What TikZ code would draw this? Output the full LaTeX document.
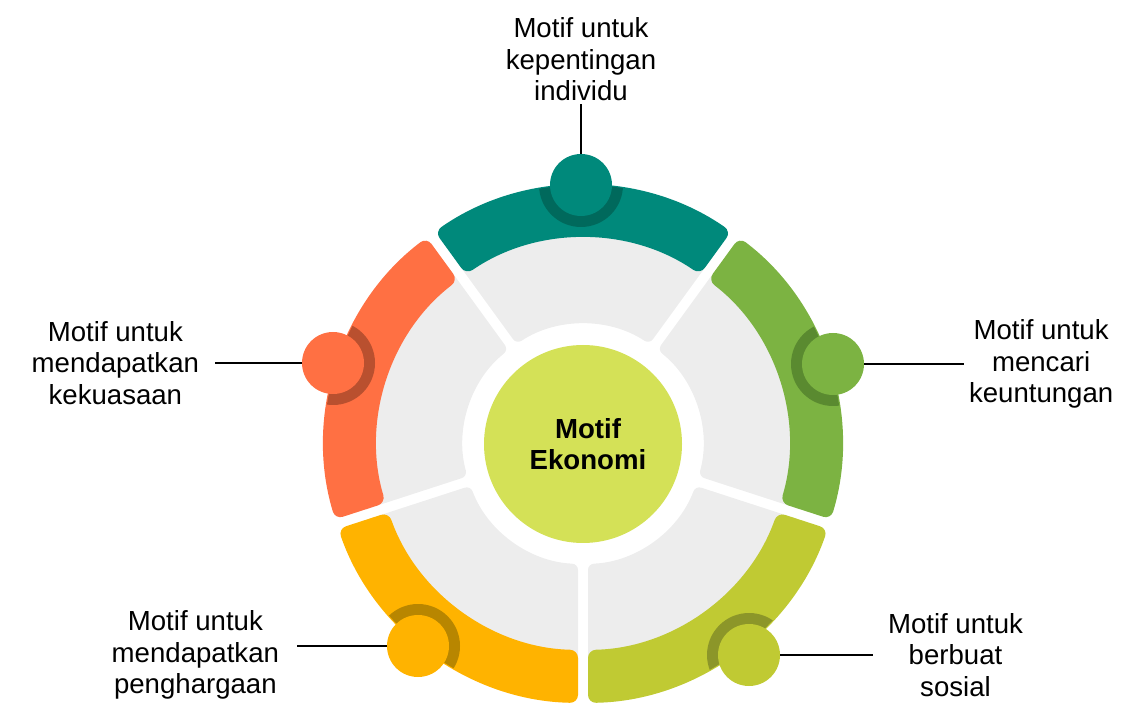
\documentclass[tikz,border=0pt]{standalone}
\usepackage{fontspec}
\setmainfont{Liberation Sans}
\usetikzlibrary{calc,positioning}

\definecolor{mtTeal}{HTML}{00897B}
\definecolor{mtTealDk}{HTML}{00695C}
\definecolor{mtOrange}{HTML}{FF7043}
\definecolor{mtOrangeDk}{HTML}{B9502F}
\definecolor{mtAmber}{HTML}{FFB300}
\definecolor{mtAmberDk}{HTML}{B88600}
\definecolor{mtLime}{HTML}{C0CA33}
\definecolor{mtLimeDk}{HTML}{8C9629}
\definecolor{mtGreen}{HTML}{7CB342}
\definecolor{mtGreenDk}{HTML}{5A8A30}
\definecolor{mtHub}{HTML}{D4E157}
\definecolor{mtGrey}{HTML}{EDEDED}

% ring piece between two gap angles, inner and outer radius
\newcommand{\ringpart}[4]{($(c)+({#1+asin(5/#4)}:#4)$) arc[start angle={#1+asin(5/#4)}, end angle={#2-asin(5/#4)}, radius=#4] -- ($(c)+({#2-asin(5/#3)}:#3)$) arc[start angle={#2-asin(5/#3)}, end angle={#1+asin(5/#3)}, radius=#3] -- cycle}

\begin{document}
\begin{tikzpicture}[
  x=1pt, y=1pt,
  dot/.style={circle, minimum size=62pt, inner sep=0pt, outer sep=0pt},
  lbl/.style={align=center, inner sep=0pt, font=\fontsize{27.6}{31.5}\selectfont},
  conn/.style={line width=1.8pt}
]
\useasboundingbox (0,0) rectangle (1138,702);
\coordinate (c) at (583,258);
% grey inner ring
\foreach \a/\b in {54/126, 126/198, 198/270, 270/342, -18/54}
  \fill[mtGrey, rounded corners=6pt] \ringpart{\a}{\b}{120}{232};
% coloured outer ring with the dots
\foreach \i/\a/\b/\col/\dk/\x/\y in {1/54/126/mtTeal/mtTealDk/581/517,
    2/126/198/mtOrange/mtOrangeDk/333/339, 3/198/270/mtAmber/mtAmberDk/418/56,
    4/270/342/mtLime/mtLimeDk/749/47, 5/-18/54/mtGreen/mtGreenDk/833/338}{
  \fill[\col, rounded corners=8pt] \ringpart{\a}{\b}{206}{259};
  \begin{scope}
    \clip \ringpart{\a}{\b}{206}{259};
    \fill[\dk] (\x,\y) circle[radius=42];
  \end{scope}
  \node[dot, fill=\col] (dot\i) at (\x,\y) {};
}
\node[circle, fill=mtHub, minimum size=198pt] (hub) at (c) {};
\node[align=center, xshift=5pt, font=\fontsize{27.6}{31.5}\selectfont\bfseries] (hubtext) at (hub) {Motif\\Ekonomi};

\node[lbl, outer sep=3pt, above=50pt of dot1] (lbl1) {Motif untuk\\kepentingan\\individu};
\node[lbl, outer sep=16pt, left=87pt of dot2] (lbl2) {Motif untuk\\mendapatkan\\kekuasaan};
\node[lbl, outer sep=18pt, left=90pt of dot3, yshift=-9pt] (lbl3) {Motif untuk\\mendapatkan\\penghargaan};
\node[lbl, outer sep=15pt, right=93pt of dot4] (lbl4) {Motif untuk\\berbuat\\sosial};
\node[lbl, outer sep=5pt, right=100pt of dot5] (lbl5) {Motif untuk\\mencari\\keuntungan};

\draw[conn] (dot1) -- (lbl1);
\draw[conn] (dot2) -- (lbl2);
\draw[conn] (dot3) -- (dot3 -| lbl3.east);
\draw[conn] (dot4) -- (lbl4);
\draw[conn] (dot5) -- (lbl5);
\end{tikzpicture}
\end{document}
